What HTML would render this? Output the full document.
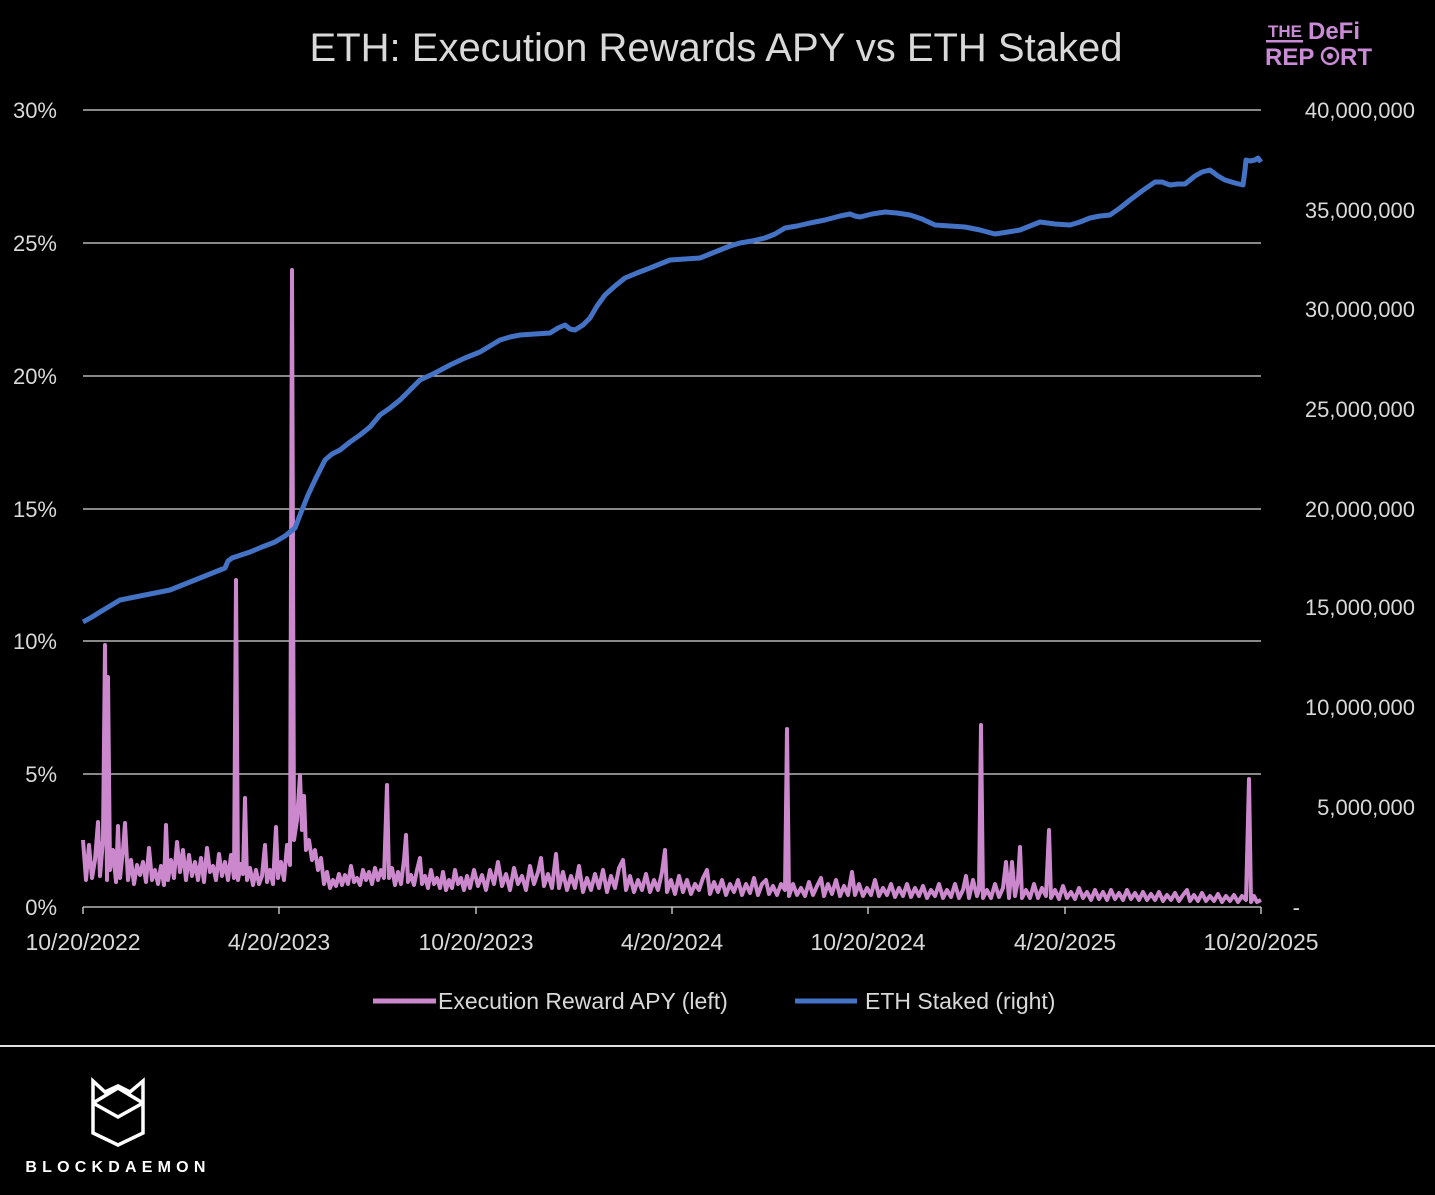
<!DOCTYPE html>
<html><head><meta charset="utf-8"><style>
html,body{margin:0;padding:0;background:#000;}
svg{display:block;font-family:"Liberation Sans",Calibri,sans-serif;}
</style></head><body>
<svg width="1435" height="1195" viewBox="0 0 1435 1195" xmlns="http://www.w3.org/2000/svg">
<rect width="1435" height="1195" fill="#000"/>
<text x="716" y="61" font-size="40" fill="#d9d9d9" text-anchor="middle">ETH: Execution Rewards APY vs ETH Staked</text>
<g font-family="Liberation Sans,sans-serif" font-weight="bold" fill="#c98bd6">
<text x="1268" y="37" font-size="17">THE</text>
<rect x="1266" y="40" width="37" height="2.5"/>
<text x="1308" y="39" font-size="24">DeFi</text>
<text x="1265" y="65" font-size="24">REP</text>
<circle cx="1330" cy="56" r="8" fill="none" stroke="#c98bd6" stroke-width="2.5"/>
<circle cx="1330" cy="56" r="3" fill="#c98bd6"/>
<text x="1340" y="65" font-size="24">RT</text>
</g>
<g stroke="#d9d9d9" stroke-width="1.3">
<line x1="83" y1="110" x2="1261" y2="110"/>
<line x1="83" y1="243" x2="1261" y2="243"/>
<line x1="83" y1="376" x2="1261" y2="376"/>
<line x1="83" y1="509" x2="1261" y2="509"/>
<line x1="83" y1="641" x2="1261" y2="641"/>
<line x1="83" y1="774" x2="1261" y2="774"/>
<line x1="83" y1="907" x2="1261" y2="907"/>
<line x1="83" y1="907" x2="83" y2="914"/><line x1="279" y1="907" x2="279" y2="914"/>
<line x1="476" y1="907" x2="476" y2="914"/><line x1="672" y1="907" x2="672" y2="914"/>
<line x1="868" y1="907" x2="868" y2="914"/><line x1="1065" y1="907" x2="1065" y2="914"/>
<line x1="1261" y1="907" x2="1261" y2="914"/>
</g>
<g font-size="22" fill="#d9d9d9">
<g text-anchor="end">
<text x="57" y="118">30%</text><text x="57" y="251">25%</text><text x="57" y="384">20%</text>
<text x="57" y="517">15%</text><text x="57" y="649">10%</text><text x="57" y="782">5%</text><text x="57" y="915">0%</text>
</g>
<g text-anchor="end">
<text x="1415" y="118">40,000,000</text><text x="1415" y="218">35,000,000</text><text x="1415" y="317">30,000,000</text>
<text x="1415" y="417">25,000,000</text><text x="1415" y="517">20,000,000</text><text x="1415" y="615">15,000,000</text>
<text x="1415" y="715">10,000,000</text><text x="1415" y="815">5,000,000</text><text x="1300" y="915">-</text>
</g>
<g text-anchor="middle" font-size="23">
<text x="83" y="950">10/20/2022</text><text x="279" y="950">4/20/2023</text><text x="476" y="950">10/20/2023</text>
<text x="672" y="950">4/20/2024</text><text x="868" y="950">10/20/2024</text><text x="1065" y="950">4/20/2025</text>
<text x="1261" y="950">10/20/2025</text>
</g>
<line x1="373" y1="1001" x2="436" y2="1001" stroke="#cc88cc" stroke-width="5"/>
<text x="438" y="1009" font-size="23">Execution Reward APY (left)</text>
<line x1="795" y1="1001" x2="857" y2="1001" stroke="#4472c4" stroke-width="5"/>
<text x="865" y="1009" font-size="23">ETH Staked (right)</text>
</g>
<polyline fill="none" stroke="#cc88cc" stroke-width="4" stroke-linejoin="round" points="83,840 86,880 89,845 92,878 95,860 98,822 100,876 103,840 105,645 107,880 108,677 110,870 113,850 116,882 118,826 120,878 123,850 125,823 128,880 131,860 134,884 137,865 140,875 143,862 146,882 149,848 152,880 155,870 158,884 161,866 164,885 166,825 168,880 171,860 174,878 177,842 180,872 183,850 186,880 189,855 192,876 195,862 198,880 201,858 204,882 207,848 210,872 213,866 216,880 219,854 222,876 225,862 228,880 231,855 234,878 236,580 238,880 241,864 243,874 245,798 247,880 250,868 253,885 256,870 259,884 262,876 265,845 267,882 270,870 273,884 276,827 278,878 281,862 284,880 287,845 290,865 292,270 294,840 297,820 300,775 302,830 304,796 306,850 309,840 312,860 315,850 318,870 321,858 324,884 327,872 330,888 333,880 336,886 339,874 342,885 345,875 348,884 351,866 354,882 357,878 360,885 363,870 366,880 369,872 372,884 375,868 378,880 381,870 384,878 387,785 389,878 392,868 395,885 398,872 401,884 404,860 406,835 408,882 411,875 414,885 417,870 420,858 422,884 425,876 428,888 431,870 434,884 437,878 440,888 443,872 446,890 449,880 452,888 455,870 458,884 461,878 464,890 467,876 470,888 474,870 478,886 482,875 486,890 490,870 494,884 498,862 502,886 506,874 510,890 514,868 518,884 522,876 526,890 530,866 534,884 538,872 541,858 544,886 548,874 552,888 556,854 559,888 563,872 567,890 571,876 575,888 579,866 583,892 587,878 591,890 595,874 599,888 603,870 607,892 611,876 615,888 619,868 623,860 626,890 630,876 634,892 638,880 642,890 646,874 650,892 654,880 658,890 662,872 665,850 667,892 671,880 675,894 679,876 683,892 687,880 691,894 695,884 699,890 703,878 707,870 710,894 714,882 718,892 722,880 726,895 730,884 734,892 738,880 742,895 746,884 750,893 754,878 758,895 762,884 766,880 769,894 773,886 777,895 781,884 785,890 787,729 789,896 793,884 797,895 801,888 805,896 809,882 813,895 817,886 821,878 824,896 828,884 832,894 836,880 840,896 844,886 848,895 852,872 855,895 859,884 863,896 867,888 871,895 875,880 879,896 883,888 887,895 891,884 895,897 899,888 903,896 907,884 911,897 915,888 919,896 923,886 927,898 931,890 935,896 939,884 943,898 947,890 951,897 955,884 959,898 963,890 966,876 969,898 973,880 977,896 979,890 981,725 983,898 987,890 991,898 995,884 999,897 1003,888 1006,862 1009,898 1012,862 1015,896 1018,880 1020,847 1022,898 1026,890 1030,898 1034,884 1038,898 1042,888 1046,896 1049,830 1051,898 1055,890 1059,899 1063,886 1067,898 1071,892 1075,899 1079,888 1083,898 1087,892 1091,900 1095,890 1099,899 1103,892 1107,900 1111,890 1115,899 1119,893 1123,900 1127,890 1131,899 1135,893 1139,900 1143,892 1147,900 1151,894 1155,900 1159,892 1163,901 1167,895 1171,900 1175,893 1179,901 1183,895 1187,890 1190,901 1194,895 1198,901 1202,893 1206,901 1210,896 1214,901 1218,894 1222,902 1226,896 1230,901 1234,895 1238,902 1242,896 1246,900 1249,779 1251,902 1254,896 1257,902 1261,900"/>
<polyline fill="none" stroke="#4472c4" stroke-width="5" stroke-linejoin="round" points="83,622 92,617 100,612 110,606 120,600 130,598 140,596 155,593 170,590 185,584 200,578 215,572 225,568 228,561 232,558 250,552 262,547 275,542 285,536 290,532 295,528 300,515 308,495 315,480 320,470 325,460 332,454 340,450 350,442 360,435 370,427 380,415 390,408 400,400 410,390 420,380 435,373 450,365 465,358 480,352 490,346 500,340 510,337 520,335 535,334 550,333 558,328 565,325 570,329 575,330 583,325 590,318 597,306 605,295 615,286 625,278 637,273 650,268 660,264 670,260 685,259 700,258 710,254 720,250 730,246 740,243 752,241 765,238 775,234 785,228 797,226 810,223 825,220 840,216 850,214 855,216 860,217 872,214 885,212 897,213 910,215 922,219 935,225 950,226 965,227 980,230 995,234 1008,232 1020,230 1030,226 1040,222 1055,224 1070,225 1080,222 1090,218 1100,216 1110,215 1120,208 1130,200 1142,191 1155,182 1162,182 1170,185 1178,184 1185,184 1190,180 1195,176 1202,172 1210,170 1218,176 1225,180 1235,183 1243,185 1245,170 1246,160 1250,161 1255,160 1258,158 1261,162"/>
<line x1="0" y1="1046" x2="1435" y2="1046" stroke="#e0e0e0" stroke-width="2"/>
<g fill="none" stroke="#fff" stroke-width="3.5" stroke-linejoin="miter">
<path d="M93,1081 L93,1133 L118,1145 L143,1133 L143,1081 L130,1092 L118,1086 L105,1092 Z"/>
<path d="M93,1103 L118,1117 L143,1103 M93,1103 L118,1088 L143,1103"/>
</g>
<text x="118" y="1172" font-size="16" fill="#fff" text-anchor="middle" letter-spacing="5.2" font-weight="bold">BLOCKDAEMON</text>
</svg>
</body></html>
